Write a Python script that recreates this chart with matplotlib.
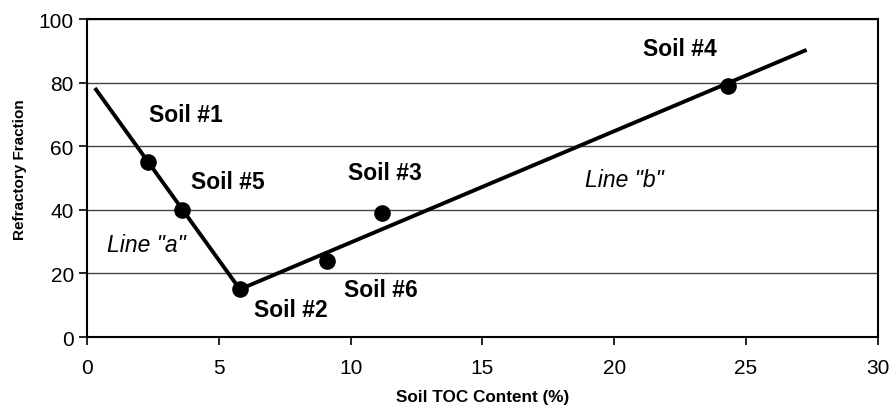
import matplotlib
matplotlib.use("Agg")
import matplotlib.pyplot as plt

plt.rcParams['font.family'] = ['Liberation Sans', 'DejaVu Sans']

# measured soils
soil_names = ['Soil #1', 'Soil #5', 'Soil #2', 'Soil #6', 'Soil #3', 'Soil #4']
toc = [2.3, 3.6, 5.8, 9.1, 11.2, 24.3]
refractory = [55, 40, 15, 24, 39, 79]

# label positions (x, y) for each soil
label_x = [3.75, 5.35, 7.75, 11.15, 11.3, 22.5]
label_y = [70.0, 49.0, 8.8, 14.8, 51.6, 90.6]

# fitted lines
line_a_x = [0.3, 5.8]
line_a_y = [78.3, 15]
line_b_x = [5.8, 27.3]
line_b_y = [15, 90.3]

fig = plt.figure(figsize=(8.93, 4.10), dpi=100)
ax = fig.add_axes([0.0974, 0.1756, 0.8856, 0.7756])

for yv in [20, 40, 60, 80, 100]:
    ax.axhline(yv, color='#444444', lw=1.0, zorder=1)

ax.plot(line_a_x, line_a_y, color='black', lw=2.8, zorder=2, solid_capstyle='butt')
ax.plot(line_b_x, line_b_y, color='black', lw=2.8, zorder=2, solid_capstyle='butt')
ax.scatter(toc, refractory, s=120, color='black', zorder=3)

for name, lx, ly in zip(soil_names, label_x, label_y):
    ax.text(lx, ly, name, fontsize=16.5, fontweight='bold', ha='center', va='center')

ax.text(2.26, 29.0, 'Line "a"', fontsize=16.5, style='italic', ha='center', va='center')
ax.text(20.4, 49.4, 'Line "b"', fontsize=16.5, style='italic', ha='center', va='center')

ax.set_xlim(0, 30)
ax.set_ylim(0, 100)
ax.set_xticks(range(0, 31, 5))
ax.set_yticks(range(0, 101, 20))
ax.tick_params(labelsize=15, length=6, width=1.2, direction='out')
ax.tick_params(axis='x', pad=9)
for sp in ax.spines.values():
    sp.set_linewidth(1.5)

ax.set_xlabel('Soil TOC Content (%)', fontsize=12.3, fontweight='bold', labelpad=9)
ax.set_ylabel('Refractory Fraction', fontsize=11, fontweight='bold')
ax.yaxis.set_label_coords(-0.076, 0.528)

fig.savefig('out.png', dpi=100)
